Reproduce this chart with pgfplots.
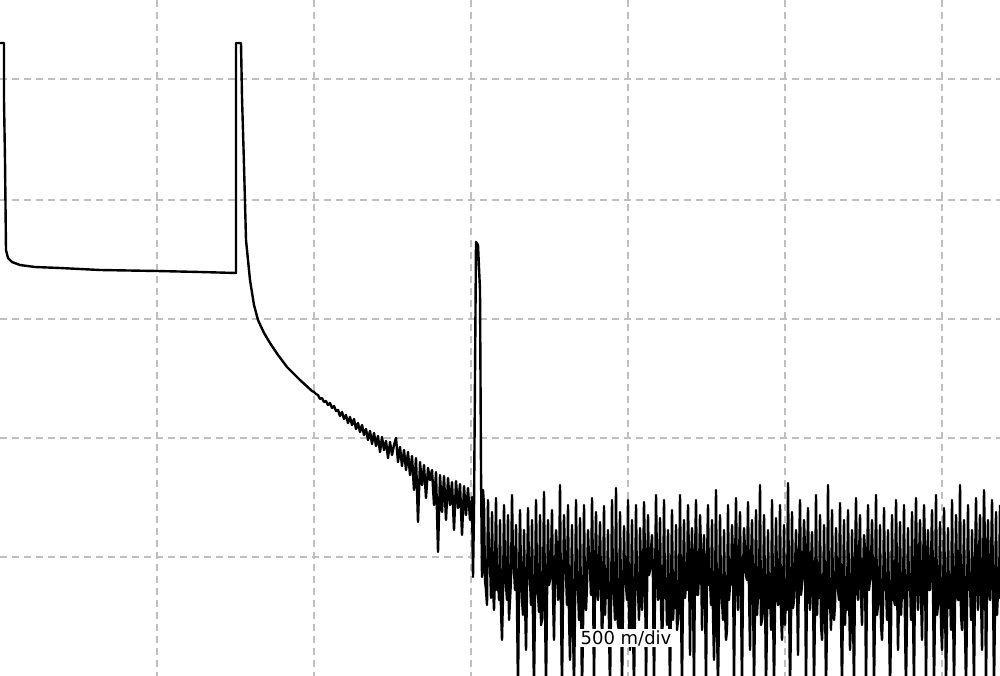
\documentclass[border=0pt]{standalone}
\usepackage{fontspec}
\usepackage{pgfplots}
\pgfplotsset{compat=1.18}
\newfontfamily\labelfont{DejaVu Sans}

% trace, in screen pixels (y counted from the top)
\pgfplotstableread{
x y
0 43
4 43
4 100
5 160
6 250
8 258
12 262
20 265
35 267
60 268
100 270
157 271
200 272
236 273
236 43
241 43
242 97
244 165
246 240
250 280
254 305
258 320
264 333
270 343
278 355
287 367
300 380
312 391
314 392
316 394
318 395
320 399
322 398
324 402
326 401
328 405
330 403
332 408
334 406
336 411
338 410
340 416
342 412
344 419
346 415
348 423
350 417
352 425
354 419
356 429
358 423
360 432
362 425
364 435
366 429
368 440
370 431
372 444
374 433
376 446
378 436
380 452
382 437
384 450
386 441
388 458
390 442
392 455
394 445
396 438
398 462
400 447
402 466
404 450
406 470
408 452
410 475
412 456
414 490
416 458
418 522
420 462
422 485
424 465
426 498
428 468
430 480
432 470
434 505
436 472
438 552
440 475
442 512
444 476
446 520
448 478
450 505
452 482
454 530
456 481
458 508
460 484
462 535
464 486
466 515
468 488
470 520
472 497
473 577
474 510
476 242
478 245
480 290
481 470
482 577
483 490
484 505
485 580
486 590
487 605
488 500
489 560
490 560
491 598
492 512
493 585
494 610
495 575
496 498
497 590
498 575
499 600
500 520
501 610
502 640
503 595
504 505
505 570
506 585
507 600
508 515
509 620
510 600
511 580
512 495
513 560
514 570
515 590
516 525
517 605
518 690
519 585
520 510
521 575
522 600
523 615
524 530
525 598
526 650
527 590
528 508
529 570
530 580
531 605
532 520
533 620
534 690
535 600
536 500
537 580
538 595
539 612
540 515
541 625
542 620
543 590
544 492
545 605
546 690
547 598
548 520
549 585
550 580
551 560
552 510
553 595
554 640
555 575
556 530
557 550
558 600
559 585
560 485
561 610
562 690
563 595
564 515
565 560
566 575
567 605
568 505
569 615
570 660
571 598
572 525
573 625
574 690
575 610
576 500
577 590
578 590
579 620
580 518
581 608
582 690
583 630
584 505
585 600
586 610
587 585
588 530
589 560
590 570
591 595
592 498
593 575
594 690
595 580
596 512
597 590
598 600
599 565
600 522
601 585
602 645
603 605
604 506
605 615
606 580
607 598
608 530
609 625
610 690
611 610
612 500
613 590
614 595
615 620
616 488
617 608
618 625
619 630
620 512
621 600
622 690
623 605
624 526
625 580
626 585
627 600
628 500
629 615
630 650
631 598
632 520
633 625
634 690
635 610
636 505
637 590
638 590
639 620
640 528
641 570
642 610
643 585
644 502
645 560
646 690
647 595
648 515
649 575
650 570
651 550
652 535
653 580
654 690
655 590
656 495
657 565
658 600
659 585
660 518
661 605
662 640
663 615
664 500
665 598
666 580
667 625
668 530
669 610
670 690
671 590
672 510
673 620
674 600
675 608
676 525
677 630
678 620
679 600
680 495
681 605
682 690
683 585
684 520
685 598
686 585
687 590
688 505
689 560
690 655
691 570
692 528
693 585
694 690
695 560
696 500
697 595
698 595
699 575
700 515
701 550
702 630
703 580
704 535
705 590
706 690
707 565
708 505
709 585
710 580
711 605
712 520
713 615
714 660
715 598
716 490
717 625
718 690
719 610
720 515
721 590
722 600
723 620
724 530
725 608
726 640
727 630
728 505
729 600
730 585
731 585
732 525
733 560
734 690
735 570
736 498
737 585
738 610
739 560
740 512
741 595
742 690
743 575
744 528
745 550
746 575
747 580
748 502
749 590
750 650
751 565
752 520
753 585
754 690
755 605
756 510
757 615
758 595
759 598
760 485
761 625
762 620
763 610
764 515
765 590
766 690
767 620
768 530
769 608
770 580
771 630
772 500
773 600
774 690
775 605
776 518
777 580
778 605
779 600
780 505
781 615
782 640
783 598
784 525
785 625
786 585
787 610
788 483
789 590
790 690
791 620
792 512
793 608
794 600
795 570
796 530
797 585
798 655
799 560
800 500
801 595
802 585
803 575
804 520
805 550
806 690
807 580
808 508
809 590
810 610
811 565
812 532
813 585
814 690
815 605
816 495
817 615
818 580
819 598
820 515
821 625
822 640
823 610
824 525
825 590
826 690
827 620
828 485
829 608
830 600
831 630
832 510
833 600
834 620
835 605
836 528
837 580
838 590
839 600
840 503
841 615
842 690
843 598
844 520
845 625
846 585
847 610
848 510
849 590
850 650
851 620
852 530
853 608
854 690
855 570
856 498
857 585
858 600
859 560
860 515
861 595
862 625
863 575
864 535
865 550
866 690
867 580
868 505
869 590
870 580
871 565
872 520
873 585
874 690
875 605
876 495
877 615
878 605
879 598
880 525
881 625
882 640
883 610
884 508
885 590
886 585
887 620
888 530
889 608
890 690
891 630
892 515
893 600
894 600
895 605
896 500
897 580
898 650
899 600
900 522
901 615
902 590
903 598
904 505
905 625
906 690
907 610
908 528
909 590
910 580
911 620
912 512
913 608
914 690
915 570
916 498
917 585
918 610
919 560
920 520
921 595
922 640
923 575
924 505
925 550
926 690
927 580
928 530
929 590
930 590
931 565
932 510
933 585
934 690
935 605
936 495
937 615
938 605
939 598
940 522
941 625
942 650
943 610
944 508
945 590
946 690
947 620
948 528
949 608
950 585
951 630
952 500
953 600
954 690
955 605
956 515
957 580
958 600
959 600
960 485
961 615
962 630
963 598
964 520
965 625
966 690
967 610
968 505
969 590
970 580
971 620
972 530
973 608
974 690
975 570
976 498
977 585
978 610
979 560
980 515
981 595
982 650
983 575
984 490
985 550
986 690
987 580
988 520
989 590
990 600
991 565
992 500
993 585
994 690
995 605
996 512
997 615
998 590
999 598
1000 505
}\trace

\begin{document}
\begin{tikzpicture}
\begin{axis}[
name=ax,
scale only axis,
width=1000pt, height=676pt,
xmin=0, xmax=1000,
ymin=0, ymax=676,
y dir=reverse,
axis line style={draw=none},
xtick={157,314,471,628,785,942},
ytick={79,200,319,438,557},
xticklabels={}, yticklabels={},
major tick length=0pt,
grid=major,
grid style={color=black!25, line width=1.2pt, dash pattern=on 7pt off 5pt},
]
\addplot [black, line width=2.4pt, line join=round] table {\trace};
\node [fill=white, inner sep=1.5pt, font=\labelfont\fontsize{18}{18}\selectfont]
  at (axis cs:626,638) {500 m/div};
\end{axis}
\pgfresetboundingbox
\path (ax.south west) rectangle (ax.north east);
\end{tikzpicture}
\end{document}
